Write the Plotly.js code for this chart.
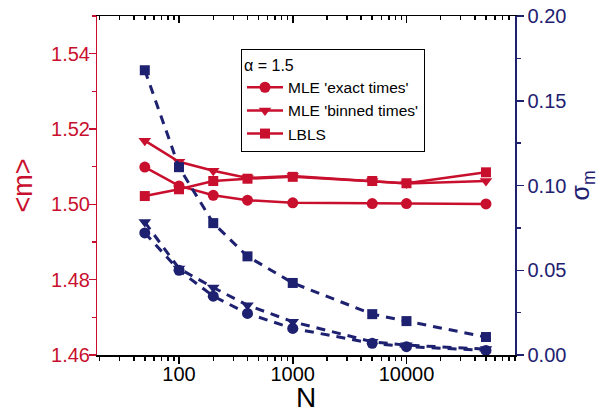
<!DOCTYPE html>
<html>
<head>
<meta charset="utf-8">
<script src="https://cdn.plot.ly/plotly-3.0.1.min.js"></script>
<style>html,body{margin:0;padding:0;background:#fff;}#chart{width:602px;height:413px;}</style>
</head>
<body>
<div id="chart"></div>
<script>
// ---- data ----
const N = [50, 100, 200, 400, 1000, 5000, 10000, 50000];
const mExact  = [1.5099, 1.5049, 1.5024, 1.5011, 1.5004, 1.5002, 1.5002, 1.5001];
const mBinned = [1.5169, 1.5113, 1.5089, 1.5070, 1.5075, 1.5062, 1.5055, 1.5062];
const mLBLS   = [1.5022, 1.5040, 1.5062, 1.5068, 1.5073, 1.5062, 1.5056, 1.5085];
const sExact  = [0.0720, 0.0500, 0.0347, 0.0245, 0.0157, 0.0069, 0.0049, 0.0027];
const sBinned = [0.0784, 0.0510, 0.0398, 0.0294, 0.0196, 0.0078, 0.0058, 0.0035];
const sLBLS   = [0.1680, 0.1108, 0.0778, 0.0582, 0.0425, 0.0241, 0.0200, 0.0106];
const seriesNames = ["MLE 'exact times'", "MLE 'binned times'", "LBLS"];
const xTickVals = [100, 1000, 10000];
const xTickText = ["100", "1000", "10000"];
const legendTitle = "α = 1.5";

const RED = '#C8102E';
const BLUE = '#1E2170';
const FONT = 'Liberation Sans, Arial, sans-serif';

const symbols = ['circle', 'triangle-down', 'square'];
const sizes = [11, 11, 10];
const mSeries = [mExact, mBinned, mLBLS];
const sSeries = [sExact, sBinned, sLBLS];
// axis pairs (all overlaid axes share identical ranges; this just makes every axis get drawn)
const mAxes = [['x', 'y'], ['x', 'y'], ['x', 'y3']];
const sAxes = [['x2', 'y2'], ['x3', 'y2'], ['x3', 'y2']];

const traces = [];
mSeries.forEach((ys, i) => {
  traces.push({
    x: N, y: ys, type: 'scatter', mode: 'lines+markers', name: seriesNames[i],
    xaxis: mAxes[i][0], yaxis: mAxes[i][1],
    line: {color: RED, width: 2.5},
    marker: {symbol: symbols[i], size: sizes[i], color: RED},
    showlegend: true, hoverinfo: 'skip'
  });
});
sSeries.forEach((ys, i) => {
  traces.push({
    x: N, y: ys, type: 'scatter', mode: 'lines+markers', name: seriesNames[i] + ' σ',
    xaxis: sAxes[i][0], yaxis: sAxes[i][1],
    line: {color: BLUE, width: 3, dash: '9px,7px'},
    marker: {symbol: symbols[i], size: sizes[i], color: BLUE},
    showlegend: false, hoverinfo: 'skip'
  });
});

const xRange = [Math.log10(19), Math.log10(90000)];
const yRange = [1.46, 1.55];

const layout = {
  width: 602, height: 413,
  margin: {l: 97, r: 87, t: 16, b: 58, pad: 0},
  paper_bgcolor: '#fff', plot_bgcolor: '#fff',
  font: {family: FONT, size: 20, color: '#000'},
  showlegend: true,
  legend: {
    x: 0.3445, y: 0.903, xanchor: 'left', yanchor: 'top',
    bordercolor: '#000', borderwidth: 1, bgcolor: '#fff',
    font: {family: FONT, size: 15.5, color: '#000'},
    title: {text: legendTitle, font: {family: FONT, size: 16, color: '#000', weight: 'normal'}},
    tracegroupgap: 0, itemwidth: 36
  },
  // bottom axis: line and ticks
  xaxis: {
    type: 'log', range: xRange,
    showline: true, linecolor: '#000', linewidth: 1.5,
    ticks: 'outside', ticklen: 7, tickwidth: 1.5, tickcolor: '#000',
    tickmode: 'array', tickvals: xTickVals, showticklabels: false,
    minor: {dtick: 'D1', ticks: 'outside', ticklen: 4, tickwidth: 1.5, tickcolor: '#000', showgrid: false},
    showgrid: false, zeroline: false
  },
  // top mirrored axis with inward ticks
  xaxis2: {
    type: 'log', range: xRange, overlaying: 'x', side: 'top', anchor: 'y2',
    showline: true, linecolor: '#000', linewidth: 1.5,
    ticks: 'inside', ticklen: 7, tickwidth: 1.5, tickcolor: '#000',
    tickmode: 'array', tickvals: xTickVals, showticklabels: false,
    minor: {dtick: 'D1', ticks: 'inside', ticklen: 4, tickwidth: 1.5, tickcolor: '#000', showgrid: false},
    showgrid: false, zeroline: false
  },
  // bottom axis labels + title
  xaxis3: {
    type: 'log', range: xRange, overlaying: 'x', side: 'bottom', anchor: 'y2',
    showline: false, ticks: '',
    tickmode: 'array', tickvals: xTickVals, ticktext: xTickText,
    ticklabelstandoff: 5,
    tickfont: {family: FONT, size: 20, color: '#000'},
    showgrid: false, zeroline: false,
    title: {text: 'N', font: {family: FONT, size: 28, color: '#000'}, standoff: 0}
  },
  yaxis: {
    range: yRange,
    showline: true, linecolor: RED, linewidth: 1.5,
    ticks: 'outside', ticklen: 7, tickwidth: 1.5, tickcolor: RED,
    dtick: 0.02, tick0: 1.46, showticklabels: false,
    minor: {dtick: 0.01, ticks: 'outside', ticklen: 4, tickwidth: 1.5, tickcolor: RED, showgrid: false},
    showgrid: false, zeroline: false
  },
  // left axis labels + title
  yaxis3: {
    range: yRange, overlaying: 'y', side: 'left', anchor: 'x',
    showline: false, ticks: '',
    dtick: 0.02, tick0: 1.46, tickformat: '.2f',
    ticklabelstandoff: 6,
    tickfont: {family: FONT, size: 20, color: RED},
    showgrid: false, zeroline: false,
    title: {text: '&lt;m&gt;', font: {family: FONT, size: 27, color: RED}, standoff: 10}
  },
  yaxis2: {
    range: [0, 0.2], overlaying: 'y', side: 'right', anchor: 'x',
    showline: true, linecolor: BLUE, linewidth: 1.5,
    ticks: 'outside', ticklen: 7, tickwidth: 1.5, tickcolor: BLUE,
    dtick: 0.05, tick0: 0, tickformat: '.2f',
    tickfont: {family: FONT, size: 20, color: BLUE},
    minor: {dtick: 0.025, ticks: 'outside', ticklen: 4, tickwidth: 1.5, tickcolor: BLUE, showgrid: false},
    showgrid: false, zeroline: false,
    title: {text: 'σ<sub>m</sub>', font: {family: FONT, size: 25, color: BLUE}, standoff: 4}
  }
};

Plotly.newPlot('chart', traces, layout, {staticPlot: true, displayModeBar: false});
</script>
</body>
</html>
